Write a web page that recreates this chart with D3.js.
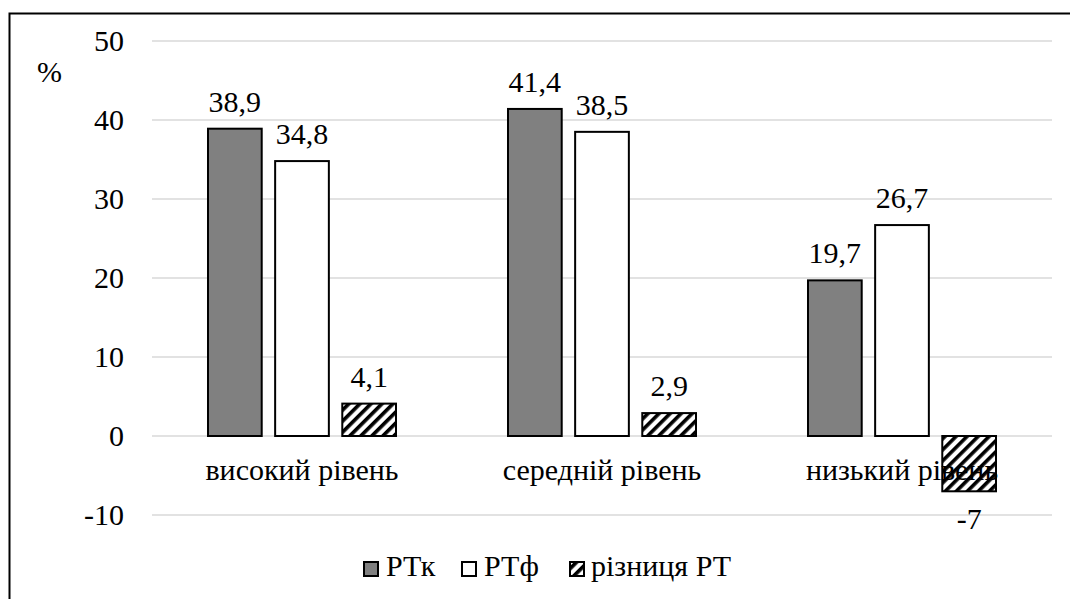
<!DOCTYPE html>
<html><head><meta charset="utf-8">
<script src="https://cdn.jsdelivr.net/npm/d3@7/dist/d3.min.js"></script>
<style>body{margin:0;background:#fff}svg{display:block}
svg text{font-family:"Liberation Serif","Times New Roman",serif;font-size:30px;fill:#000}
</style>
</head><body>
<script>
const categories = ["високий рівень", "середній рівень", "низький рівень"];
const seriesNames = ["РТк", "РТф", "різниця РТ"];
const rtk = [38.9, 41.4, 19.7];
const rtf = [34.8, 38.5, 26.7];
const diff = [4.1, 2.9, -7];
const valueLabels = [["38,9","41,4","19,7"],["34,8","38,5","26,7"],["4,1","2,9","-7"]];
const yTicks = [-10, 0, 10, 20, 30, 40, 50];

const W = 1070, H = 599;
const svg = d3.select("body").append("svg").attr("width", W).attr("height", H);

const defs = svg.append("defs");
const pat = defs.append("pattern").attr("id","hatch").attr("patternUnits","userSpaceOnUse")
  .attr("width", 7.8).attr("height", 7.8).attr("patternTransform","rotate(45)");
pat.append("rect").attr("width",7.8).attr("height",7.8).attr("fill","#fff");
pat.append("rect").attr("x",0).attr("y",0).attr("width",3.6).attr("height",7.8).attr("fill","#000");

svg.append("rect").attr("x",9.5).attr("y",13.5).attr("width",1070).attr("height",600)
  .attr("fill","#fff").attr("stroke","#000").attr("stroke-width",2);

const x0 = d3.scaleBand().domain(categories).range([152, 1052]);
const y = d3.scaleLinear().domain([-10, 50]).range([515, 41]);
const inner = d3.scaleBand().domain([0,1,2]).range([0, 188]).paddingInner(0.2);

svg.append("g").selectAll("line").data(yTicks).join("line")
  .attr("x1",152).attr("x2",1052).attr("y1",d=>y(d)).attr("y2",d=>y(d))
  .attr("stroke","#d9d9d9").attr("stroke-width",1.5);

const yAxis = d3.axisLeft(y).tickValues(yTicks).tickSize(0).tickPadding(0).tickFormat(d=>String(d));
const ya = svg.append("g").attr("transform","translate(124,0)").call(yAxis);
ya.attr("font-family",null).attr("font-size",null);
ya.select(".domain").remove();
ya.selectAll("text").attr("fill",null).attr("dy","0.33em");

svg.append("text").attr("x",37).attr("y",82).text("%");

const series = [rtk, rtf, diff];
const fills = ["#808080", "#fff", "url(#hatch)"];
const barX = (si,i) => x0(categories[i]) + x0.bandwidth()/2 - 94 + inner(si);
series.forEach((vals, si) => {
  svg.append("g").selectAll("rect").data(vals).join("rect")
    .attr("x",(d,i)=>barX(si,i))
    .attr("width", inner.bandwidth())
    .attr("y", d=>y(Math.max(0,d)))
    .attr("height", d=>Math.abs(y(d)-y(0)))
    .attr("fill", fills[si]).attr("stroke","#000").attr("stroke-width",2);
});

svg.append("g").selectAll("text").data(categories).join("text")
  .attr("x",d=>x0(d)+x0.bandwidth()/2).attr("y",480)
  .attr("text-anchor","middle").text(d=>d);

series.forEach((vals, si) => {
  svg.append("g").selectAll("text").data(vals).join("text")
    .attr("x",(d,i)=>barX(si,i) + inner.bandwidth()/2)
    .attr("y", d=> d>=0 ? y(d)-17 : y(d)+38)
    .attr("text-anchor","middle")
    .text((d,i)=>valueLabels[si][i]);
});

const legX = [364, 462, 570];
const legT = [386, 484, 591];
const lg = svg.append("g");
seriesNames.forEach((n,i)=>{
  lg.append("rect").attr("x",legX[i]).attr("y",562).attr("width",14).attr("height",14)
    .attr("fill",fills[i]).attr("stroke","#000").attr("stroke-width",2);
  lg.append("text").attr("x",legT[i]).attr("y",576).text(n);
});
</script>
</body></html>
